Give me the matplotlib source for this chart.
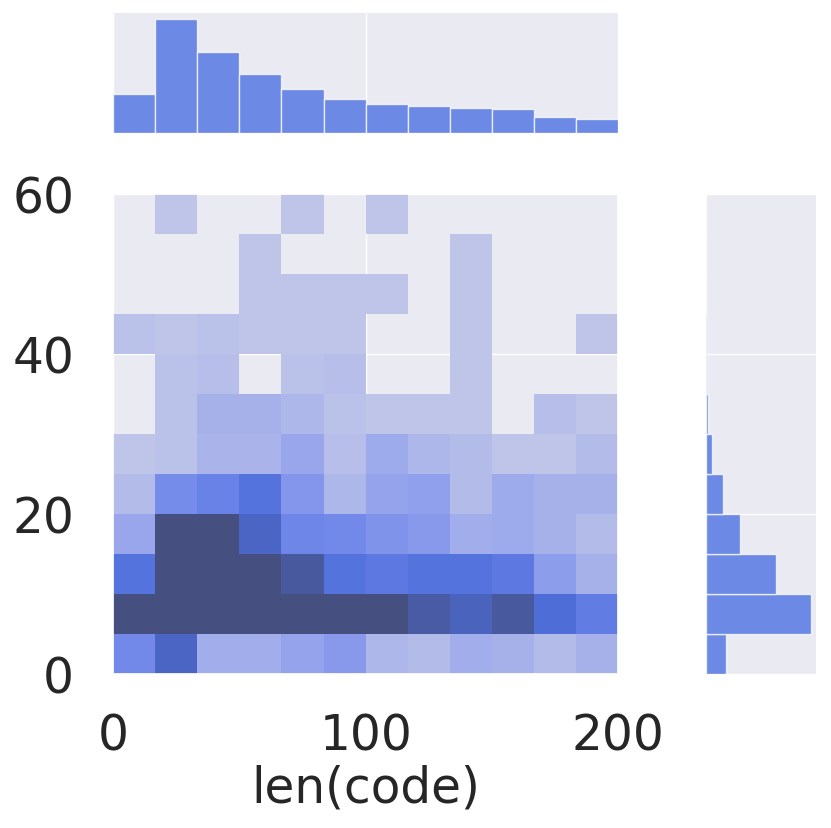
import numpy as np
import matplotlib
matplotlib.use("Agg")
import matplotlib.pyplot as plt
import matplotlib.colors as mcolors
import seaborn as sns
from seaborn.external import husl

# bin edges (len(code) on x, second variable on y)
x_edges = np.linspace(0, 200, 13)
y_edges = np.linspace(0, 60, 13)

# 2D counts, rows go from y=0-5 (bottom) to y=55-60 (top)
joint_counts = [
    [19, 31, 8, 8, 11, 14, 5, 4, 8, 7, 4, 7],
    [66, 148, 90, 54, 46, 42, 44, 35, 32, 36, 28, 23],
    [26, 100, 75, 57, 36, 26, 24, 26, 26, 24, 13, 7],
    [10, 45, 42, 31, 20, 19, 16, 14, 8, 9, 7, 4],
    [4, 18, 21, 26, 15, 5, 11, 12, 4, 9, 7, 7],
    [1, 2, 6, 6, 10, 3, 9, 5, 4, 1, 1, 4],
    [0, 2, 7, 7, 5, 2, 1, 1, 1, 0, 3, 1],
    [0, 2, 3, 0, 2, 3, 0, 0, 1, 0, 0, 0],
    [2, 1, 2, 1, 1, 1, 0, 0, 1, 0, 0, 1],
    [0, 0, 0, 1, 1, 1, 1, 0, 1, 0, 0, 0],
    [0, 0, 0, 1, 0, 0, 0, 0, 1, 0, 0, 0],
    [0, 1, 0, 0, 1, 0, 1, 0, 0, 0, 0, 0],
]

# marginal counts
x_marg = [116, 342, 243, 176, 131, 102, 89, 82, 76, 73, 48, 42]
y_marg = [117, 611, 412, 199, 103, 39, 16, 8, 6, 4, 3, 3]

color = "royalblue"
fs = 35


def cmap_from_color(c):
    # same ramp seaborn uses for bivariate histograms
    r, g, b, _ = mcolors.to_rgba(c)
    h, s, _ = husl.rgb_to_husl(r, g, b)
    xx = np.linspace(-1, 1, int(1.15 * 256))[:256]
    ramp = np.zeros((256, 3))
    ramp[:, 0] = h
    ramp[:, 1] = s * np.cos(xx)
    ramp[:, 2] = np.linspace(35, 80, 256)
    cols = np.clip([husl.husl_to_rgb(*hsl) for hsl in ramp], 0, 1)
    return mcolors.ListedColormap(cols[::-1])


sns.set_theme(style="darkgrid")

fig = plt.figure(figsize=(8.31, 8.29), dpi=100)
ax = fig.add_axes([0.136, 0.186, 0.608, 0.579])
ax_top = fig.add_axes([0.136, 0.838, 0.608, 0.145], sharex=ax)
ax_right = fig.add_axes([0.849, 0.186, 0.133, 0.579], sharey=ax)

counts = np.ma.masked_less_equal(np.array(joint_counts), 0)
ax.pcolormesh(x_edges, y_edges, counts, cmap=cmap_from_color(color),
              vmin=1, vmax=40)
ax.set_xlim(0, 200)
ax.set_ylim(0, 60)
ax.set_xticks([0, 100, 200])
ax.set_yticks([0, 20, 40, 60])
ax.tick_params(axis="x", labelsize=fs, pad=21)
ax.tick_params(axis="y", labelsize=fs, pad=22)
ax.set_xlabel("len(code)", fontsize=fs, labelpad=3)

widths = np.diff(x_edges)
ax_top.bar(x_edges[:-1], x_marg, width=widths, align="edge", color=color,
           alpha=0.75, edgecolor="white", linewidth=1)
ax_top.set_ylim(0, max(x_marg) * 1.05)
ax_top.yaxis.grid(False)
ax_top.tick_params(labelbottom=False, labelleft=False)

heights = np.diff(y_edges)
ax_right.barh(y_edges[:-1], y_marg, height=heights, align="edge", color=color,
              alpha=0.75, edgecolor="white", linewidth=1)
ax_right.set_xlim(0, max(y_marg) * 1.05)
ax_right.xaxis.grid(False)
ax_right.tick_params(labelbottom=False, labelleft=False)

for a in (ax_top, ax_right):
    for s in a.spines.values():
        s.set_visible(False)

fig.savefig("out.png", dpi=100)
